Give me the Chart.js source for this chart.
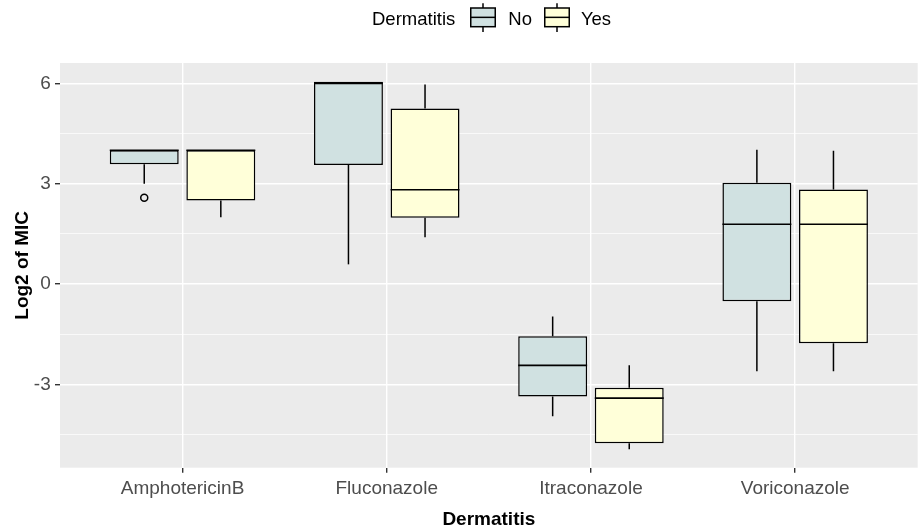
<!DOCTYPE html>
<html>
<head>
<meta charset="utf-8">
<script src="https://cdn.jsdelivr.net/npm/chart.js@4/dist/chart.umd.min.js"></script>
<style>
  body { margin: 0; background: #fff; }
  #wrap { position: relative; width: 920px; height: 532px; }
  #legend {
    position: absolute; top: 3px; left: 372px; height: 30px;
    display: flex; align-items: center;
    font-family: 'Liberation Sans', Arial, sans-serif; font-size: 18.5px; color: #000;
  }
  #legend span { position: relative; top: 1px; }
</style>
</head>
<body>
<div id="wrap">
  <canvas id="boxChart" width="920" height="532"></canvas>
  <div id="legend"></div>
</div>
<script>
// --------------------------------------
// 1. Data
// --------------------------------------
const categories = ['AmphotericinB', 'Fluconazole', 'Itraconazole', 'Voriconazole'];
const groupNames = ['No', 'Yes'];
const groupFills = ['#D0E1E1', '#FFFFD9'];

// Dermatitis = No
const noMin      = [3.00, 0.59, -3.95, -2.61];
const noQ1       = [3.58, 3.56, -3.36, -0.51];
const noMedian   = [4.00, 6.00, -2.43,  1.79];
const noQ3       = [4.00, 6.05, -1.56,  3.03];
const noMax      = [4.00, 6.05, -0.97,  4.02];
const noOutliers = [[2.58], [], [], []];

// Dermatitis = Yes
const yesMin      = [2.00, 1.40, -4.94, -2.61];
const yesQ1       = [2.50, 1.98, -4.76, -1.77];
const yesMedian   = [4.00, 2.82, -3.41,  1.79];
const yesQ3       = [4.00, 5.25, -3.10,  2.83];
const yesMax      = [4.00, 5.97, -2.43,  3.99];
const yesOutliers = [[], [], [], []];

const yMajorTicks = [-3, 0, 3, 6];
const yMinorGrid  = [-4.5, -1.5, 1.5, 4.5];
const yLimits = [-5.49, 6.61];

// --------------------------------------
// 2. Plugins
// --------------------------------------
const panelBackground = {
  id: 'panelBackground',
  beforeDraw(chart) {
    const { ctx, chartArea: a } = chart;
    ctx.save();
    ctx.fillStyle = '#EBEBEB';
    ctx.fillRect(a.left, a.top, a.right - a.left, a.bottom - a.top);
    ctx.restore();
  }
};

// whiskers, medians and outliers on top of the floating bars
const boxWhiskers = {
  id: 'boxWhiskers',
  afterDatasetsDraw(chart) {
    const { ctx } = chart;
    const y = chart.scales.y;
    chart.data.datasets.forEach((ds, di) => {
      chart.getDatasetMeta(di).data.forEach((bar, i) => {
        const half = bar.width / 2;
        const [q1, q3] = ds.data[i];
        ctx.save();
        ctx.strokeStyle = '#000';
        ctx.lineWidth = 1.5;
        ctx.beginPath();
        ctx.moveTo(bar.x, y.getPixelForValue(q3));
        ctx.lineTo(bar.x, y.getPixelForValue(ds.whiskerMax[i]));
        ctx.moveTo(bar.x, y.getPixelForValue(q1));
        ctx.lineTo(bar.x, y.getPixelForValue(ds.whiskerMin[i]));
        ctx.stroke();
        ctx.lineWidth = 1.6;
        ctx.beginPath();
        const my = y.getPixelForValue(ds.median[i]);
        ctx.moveTo(bar.x - half, my);
        ctx.lineTo(bar.x + half, my);
        ctx.stroke();
        ctx.lineWidth = 1.5;
        ds.outliers[i].forEach(v => {
          ctx.beginPath();
          ctx.arc(bar.x, y.getPixelForValue(v), 3.5, 0, Math.PI * 2);
          ctx.stroke();
        });
        ctx.restore();
      });
    });
  }
};

// --------------------------------------
// 3. Chart
// --------------------------------------
Chart.defaults.font.family = "'Liberation Sans', Arial, sans-serif";

function makeDataset(label, fill, q1, q3, median, min, max, outliers) {
  return {
    label,
    data: q1.map((v, i) => [v, q3[i]]),
    median, whiskerMin: min, whiskerMax: max, outliers,
    backgroundColor: fill,
    borderColor: '#000',
    borderWidth: 1.5,
    borderSkipped: false,
    categoryPercentage: 0.75,
    barPercentage: 0.9
  };
}

const chart = new Chart(document.getElementById('boxChart'), {
  type: 'bar',
  data: {
    labels: categories,
    datasets: [
      makeDataset(groupNames[0], groupFills[0], noQ1, noQ3, noMedian, noMin, noMax, noOutliers),
      makeDataset(groupNames[1], groupFills[1], yesQ1, yesQ3, yesMedian, yesMin, yesMax, yesOutliers)
    ]
  },
  options: {
    responsive: false,
    animation: false,
    layout: { padding: { top: 63, right: 2.3, left: 0, bottom: 0 } },
    plugins: { legend: { display: false }, tooltip: { enabled: false } },
    scales: {
      x: {
        type: 'category',
        offset: false,
        afterBuildTicks(scale) {
          // ggplot discrete expansion: 0.6 of a category on each side
          scale.ticks = categories.map((_, i) => ({ value: i }));
          scale._startValue = -0.6;
          scale._valueRange = categories.length - 1 + 1.2;
        },
        afterFit(scale) { scale.height = 64.3; },
        border: { display: false },
        grid: { offset: false, color: '#FFFFFF', lineWidth: 1.4, tickColor: '#333333', tickLength: 5, tickWidth: 1.4 },
        ticks: { color: '#4D4D4D', font: { size: 19 }, padding: 5, maxRotation: 0, autoSkip: false },
        title: { display: true, text: 'Dermatitis', color: '#000', font: { size: 19, weight: 'bold' }, padding: { top: 0, bottom: 0.5 } }
      },
      y: {
        min: yLimits[0],
        max: yLimits[1],
        afterBuildTicks(scale) {
          scale.ticks = yMajorTicks.concat(yMinorGrid).sort((a, b) => a - b).map(v => ({ value: v }));
        },
        afterFit(scale) { scale.width = 60; },
        border: { display: false },
        grid: {
          color: '#FFFFFF',
          lineWidth: c => yMajorTicks.includes(c.tick.value) ? 1.4 : 0.7,
          tickColor: c => yMajorTicks.includes(c.tick.value) ? '#333333' : 'rgba(0,0,0,0)',
          tickLength: 5,
          tickWidth: 1.4
        },
        ticks: {
          color: '#4D4D4D', font: { size: 19 }, padding: 4.3,
          callback: v => yMajorTicks.includes(v) ? String(v) : ''
        },
        title: { display: true, text: 'Log2 of MIC', color: '#000', font: { size: 19, weight: 'bold' }, padding: { top: 11, bottom: 0 } }
      }
    }
  },
  plugins: [panelBackground, boxWhiskers]
});

// --------------------------------------
// 4. Legend (ggplot style: title and keys on one line)
// --------------------------------------
function keyIcon(fill) {
  return `<svg width="26" height="30" viewBox="0 0 26 30">
    <line x1="13" y1="0.3" x2="13" y2="5" stroke="#000" stroke-width="1.5"/>
    <line x1="13" y1="23.7" x2="13" y2="29" stroke="#000" stroke-width="1.5"/>
    <rect x="0.75" y="5" width="24.5" height="18.7" fill="${fill}" stroke="#000" stroke-width="1.5"/>
    <line x1="0.75" y1="14.35" x2="25.25" y2="14.35" stroke="#000" stroke-width="1.5"/>
  </svg>`;
}
document.getElementById('legend').innerHTML =
  `<span style="margin-right:15px">Dermatitis</span>` +
  keyIcon(groupFills[0]) + `<span style="margin:0 12px">${groupNames[0]}</span>` +
  keyIcon(groupFills[1]) + `<span style="margin-left:11px">${groupNames[1]}</span>`;
</script>
</body>
</html>
